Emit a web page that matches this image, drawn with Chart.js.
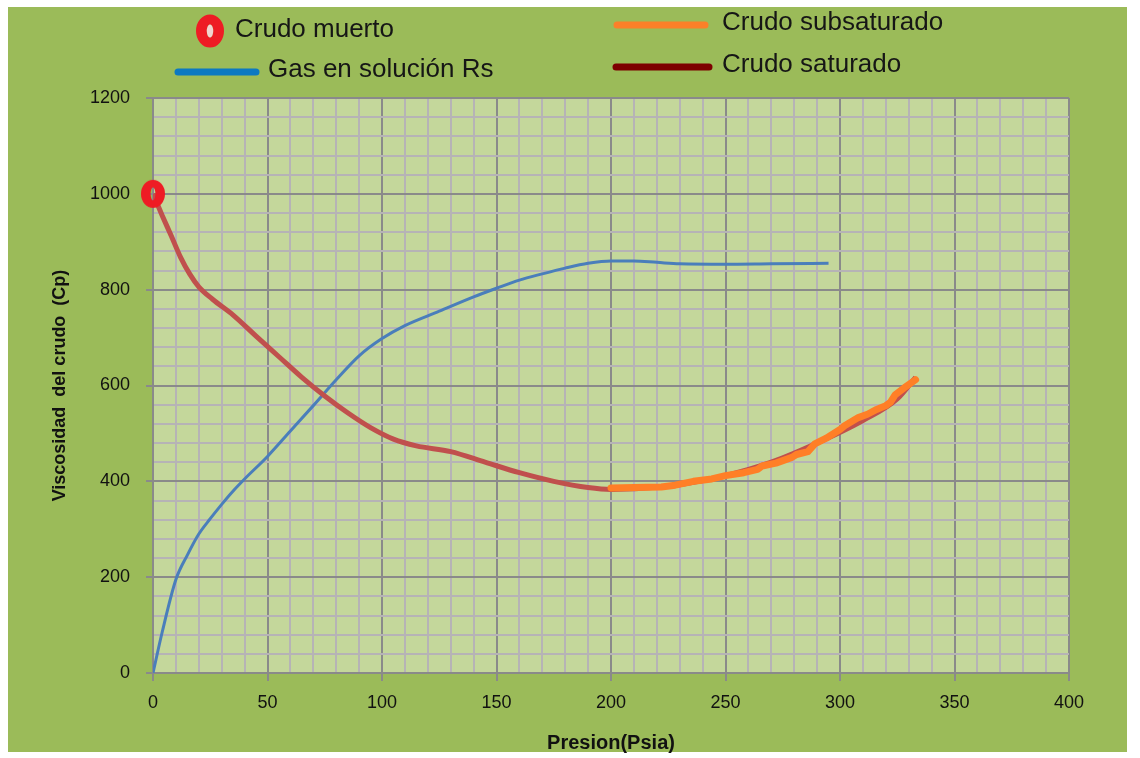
<!DOCTYPE html>
<html>
<head>
<meta charset="utf-8">
<title>Viscosidad del crudo</title>
<script src="https://cdn.jsdelivr.net/npm/chart.js@4.4.0/dist/chart.umd.min.js"></script>
<style>
  html, body { margin: 0; padding: 0; background: #fff; }
</style>
</head>
<body>
<canvas id="viscChart" width="1140" height="758"></canvas>
<script>
// Presion (Psia) y gas en solucion Rs
const presionRs = [0, 4, 10, 15, 20, 25, 30, 35, 40, 50, 60, 70, 80, 90, 100, 110, 125, 140, 150, 160, 170, 180, 190, 200, 210, 220, 230, 250, 270, 295];
const gasRs     = [0, 85, 195, 246, 290, 322, 352, 380, 405, 452, 505, 558, 612, 662, 698, 725, 755, 785, 803, 820, 833, 845, 855, 860, 860, 857, 854, 853, 854, 855];

// Crudo saturado (viscosidad, Cp)
const presionSat = [0, 4, 8, 12, 16, 20, 26, 35, 45, 55, 65, 75, 85, 95, 105, 115, 130, 145, 160, 175, 190, 200, 215, 230, 250, 270, 290, 310, 325, 333];
const viscSat    = [1000, 955, 912, 868, 833, 806, 780, 747, 703, 660, 617, 578, 543, 512, 488, 474, 462, 440, 418, 400, 387, 383, 386, 393, 412, 440, 480, 527, 572, 617];

// Crudo subsaturado
const presionSub = [200, 210, 222, 228, 236, 244, 250, 258, 264, 266, 272, 279, 281, 286, 289, 294, 300, 302, 308, 312, 316, 320, 322, 324, 328, 333];
const viscSub    = [386, 387, 388, 392, 400, 405, 412, 418, 425, 432, 438, 450, 456, 462, 478, 490, 508, 516, 533, 540, 550, 558, 565, 580, 595, 612];

// Crudo muerto
const presionMuerto = [0];
const viscMuerto    = [1000];

const xTickLabels = [0, 50, 100, 150, 200, 250, 300, 350, 400];
const yTickLabels = [0, 200, 400, 600, 800, 1000, 1200];

const pares = (xs, ys) => xs.map((x, i) => ({ x: x, y: ys[i] }));

function dibujarAnillo(ctx, cx, cy, rx, ry, hx, hy, hueco) {
  ctx.beginPath();
  ctx.ellipse(cx, cy, rx, ry, 0, 0, Math.PI * 2);
  ctx.moveTo(cx + hx, cy);
  ctx.ellipse(cx, cy, hx, hy, 0, 0, Math.PI * 2);
  ctx.fillStyle = '#ee1c24';
  ctx.fill('evenodd');
  if (hueco) {
    ctx.beginPath();
    ctx.ellipse(cx, cy, hx, hy, 0, 0, Math.PI * 2);
    ctx.fillStyle = hueco;
    ctx.fill();
  }
}

// marcador del crudo muerto
const marcador = document.createElement('canvas');
marcador.width = 26;
marcador.height = 30;
dibujarAnillo(marcador.getContext('2d'), 13, 15, 12, 14, 2.4, 6.5);

const fondo = {
  id: 'fondo',
  beforeDraw(chart) {
    const { ctx, chartArea: a } = chart;
    ctx.save();
    ctx.fillStyle = '#ffffff';
    ctx.fillRect(0, 0, chart.width, chart.height);
    ctx.fillStyle = '#9bbb59';
    ctx.fillRect(8, 7, 1119, 745);
    ctx.fillStyle = '#c4d79b';
    ctx.fillRect(a.left, a.top, a.right - a.left, a.bottom - a.top);
    ctx.restore();
  }
};

const leyenda = {
  id: 'leyenda',
  afterDraw(chart) {
    const ctx = chart.ctx;
    ctx.save();
    ctx.font = '26px "Liberation Sans", Arial, sans-serif';
    ctx.textBaseline = 'middle';
    ctx.lineCap = 'round';
    ctx.lineWidth = 7;

    dibujarAnillo(ctx, 210, 31, 14, 16.5, 3.2, 6.5, '#f2d4d0');
    ctx.fillStyle = '#161616';
    ctx.fillText('Crudo muerto', 235, 30);

    const lineas = [
      ['Gas en solución Rs', '#0b79c1', 178, 256, 72, 268, 70],
      ['Crudo subsaturado', '#fb8029', 617, 705, 25, 722, 23],
      ['Crudo saturado', '#7d0000', 616, 709, 67, 722, 65]
    ];
    lineas.forEach(([texto, color, x1, x2, y, tx, ty]) => {
      ctx.strokeStyle = color;
      ctx.beginPath();
      ctx.moveTo(x1, y);
      ctx.lineTo(x2, y);
      ctx.stroke();
      ctx.fillText(texto, tx, ty);
    });
    ctx.restore();
  }
};

const fuenteTicks = { family: '"Liberation Sans", Arial, sans-serif', size: 18 };
const fuenteTituloY = { family: '"Liberation Sans", Arial, sans-serif', size: 18, weight: 'bold' };
const fuenteTituloX = { family: '"Liberation Sans", Arial, sans-serif', size: 20, weight: 'bold' };

const colorGrid = (lista) => (c) => lista.includes(c.tick.value) ? '#8a8a8a' : '#b6b3b6';
const colorTick = (lista) => (c) => lista.includes(c.tick.value) ? '#8a8a8a' : 'rgba(0,0,0,0)';

new Chart(document.getElementById('viscChart'), {
  type: 'scatter',
  data: {
    datasets: [
      {
        label: 'Crudo muerto',
        data: pares(presionMuerto, viscMuerto),
        pointStyle: marcador,
        pointRadius: 13,
        showLine: false,
        clip: false,
        order: 0
      },
      {
        label: 'Crudo subsaturado',
        data: pares(presionSub, viscSub),
        showLine: true,
        borderColor: '#ff7f27',
        borderWidth: 7,
        borderCapStyle: 'round',
        borderJoinStyle: 'round',
        tension: 0,
        pointRadius: 0,
        order: 1
      },
      {
        label: 'Crudo saturado',
        data: pares(presionSat, viscSat),
        showLine: true,
        borderColor: '#c0504d',
        borderWidth: 5,
        cubicInterpolationMode: 'monotone',
        pointRadius: 0,
        order: 2
      },
      {
        label: 'Gas en solución Rs',
        data: pares(presionRs, gasRs),
        showLine: true,
        borderColor: '#4a7ebb',
        borderWidth: 3,
        cubicInterpolationMode: 'monotone',
        pointRadius: 0,
        order: 3
      }
    ]
  },
  options: {
    responsive: false,
    animation: false,
    layout: { padding: { left: 45, top: 98, right: 71, bottom: 0 } },
    plugins: {
      legend: { display: false },
      tooltip: { enabled: false }
    },
    scales: {
      x: {
        type: 'linear',
        min: 0,
        max: 400,
        afterFit(s) { s.height = 85; },
        ticks: {
          stepSize: 10,
          autoSkip: false,
          maxRotation: 0,
          padding: 11,
          font: fuenteTicks,
          color: '#111111',
          callback: v => xTickLabels.includes(v) ? v : ''
        },
        grid: {
          color: colorGrid(xTickLabels),
          tickColor: colorTick(xTickLabels),
          lineWidth: 2,
          tickLength: 8
        },
        border: { color: '#8a8a8a', width: 2 },
        title: {
          display: true,
          text: 'Presion(Psia)',
          font: fuenteTituloX,
          color: '#111111',
          padding: { top: 0, bottom: 3 }
        }
      },
      y: {
        type: 'linear',
        min: 0,
        max: 1200,
        afterFit(s) { s.width = 108; },
        ticks: {
          stepSize: 40,
          autoSkip: false,
          padding: 16,
          font: fuenteTicks,
          color: '#111111',
          callback: v => yTickLabels.includes(v) ? v : ''
        },
        grid: {
          color: colorGrid(yTickLabels),
          tickColor: colorTick(yTickLabels),
          lineWidth: 2,
          tickLength: 7
        },
        border: { color: '#8a8a8a', width: 2 },
        title: {
          display: true,
          text: 'Viscosidad  del crudo  (Cp)',
          font: fuenteTituloY,
          color: '#111111',
          padding: { top: 4, bottom: 0 }
        }
      }
    }
  },
  plugins: [fondo, leyenda]
});
</script>
</body>
</html>
